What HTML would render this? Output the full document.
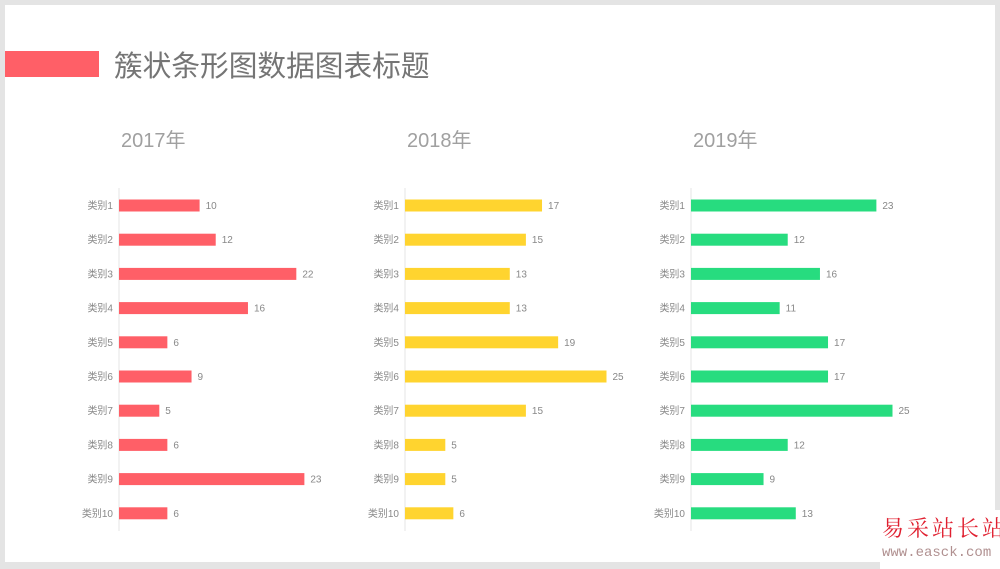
<!DOCTYPE html>
<html><head><meta charset="utf-8"><style>
body{margin:0;width:1000px;height:569px;background:#e4e4e4;overflow:hidden;position:relative;font-family:"Liberation Sans","Noto Sans CJK SC",sans-serif}
.slide{position:absolute;left:5px;top:5px;width:990px;height:557px;background:#fff}
.t{position:absolute;white-space:nowrap}
</style></head><body>
<div class="slide"></div>
<div class="t" style="left:5px;top:51px;width:94px;height:26px;background:#ff5f67"></div>
<div class="t" style="left:114px;top:44px;font-size:28.7px;color:#757575">簇状条形图数据图表标题</div>
<svg class="t" style="left:0;top:0" width="1000" height="569" font-family="Liberation Sans, Noto Sans CJK SC, sans-serif">
<g id="charts"></g>
</svg>
<div class="t" style="left:880px;top:510px;width:120px;height:59px;background:#fff"></div>
<div class="t" style="left:882px;top:512px;font-size:22px;color:#e02030;letter-spacing:3px;font-family:'Noto Serif CJK SC',serif">易采站长站</div>
<div class="t" style="left:882px;top:545px;font-size:14px;color:#b09090;font-family:'Liberation Mono',monospace">www.easck.com</div>
<script>
const data=[[10,12,22,16,6,9,5,6,23,6],[17,15,13,13,19,25,15,5,5,6],[23,12,16,11,17,17,25,12,9,13]];
const cols=['#ff5f67','#ffd42f','#27dc7f'];const xs=[119,405,691];const yrs=['2017年','2018年','2019年'];
let s='';
for(let c=0;c<3;c++){const x=xs[c];
s+=`<text x="${x+2}" y="147" font-size="20" fill="#a0a0a0">${yrs[c]}</text>`;
s+=`<line x1="${x}" y1="188" x2="${x}" y2="531" stroke="#e6e6e6"/>`;
for(let i=0;i<10;i++){const y=205.5+34.2*i;const w=data[c][i]*8.06;
s+=`<rect x="${x}" y="${y-6}" width="${w}" height="12" fill="${cols[c]}"/>`;
s+=`<text x="${x-6}" y="${y+3.5}" font-size="10" fill="#888" text-anchor="end">类别${i+1}</text>`;
s+=`<text x="${x+w+6}" y="${y+3.5}" font-size="10" fill="#888">${data[c][i]}</text>`;}}
document.getElementById('charts').innerHTML=s;
</script>
</body></html>
